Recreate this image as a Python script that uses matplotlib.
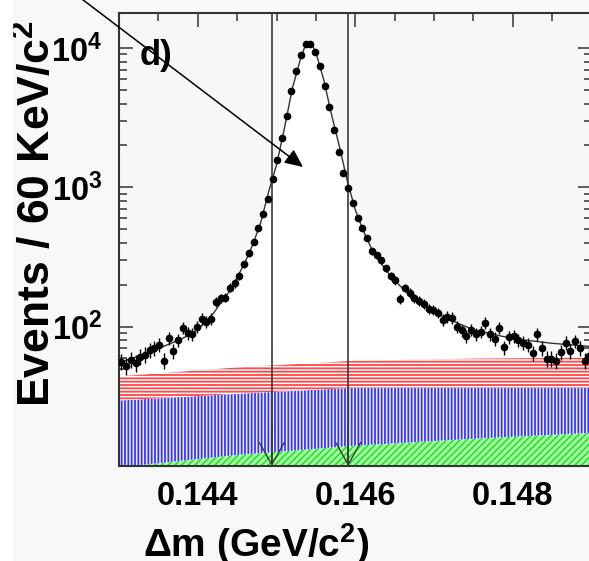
import numpy as np
import matplotlib.pyplot as plt
from matplotlib.ticker import FixedLocator, MultipleLocator, LogLocator, NullFormatter
from matplotlib.patches import Rectangle

plt.rcParams['font.family'] = ['Liberation Sans', 'DejaVu Sans']
plt.rcParams['font.weight'] = 'bold'
plt.rcParams['hatch.linewidth'] = 1.3

# histogram: 100 bins of 60 KeV between 0.143 and 0.149 GeV/c^2
dm_lo, dm_hi, n_bins = 0.143, 0.149, 100
events = [56, 52, 58, 55, 61, 63, 68, 70, 74, 57,
          83, 67, 80, 98, 90, 89, 100, 114, 108, 114,
          150, 160, 162, 191, 205, 230, 280, 336, 404, 510,
          640, 830, 1150, 1580, 2250, 3230, 4900, 6830, 8900, 10700,
          10700, 9340, 7400, 5320, 3750, 2600, 1800, 1270, 990, 772,
          602, 510, 430, 348, 325, 300, 262, 230, 215, 159,
          190, 175, 160, 154, 145, 135, 132, 126, 112, 118,
          116, 100, 94, 86, 95, 89, 92, 107, 88, 82,
          98, 71, 84, 86, 80, 77, 74, 65, 89, 70,
          59, 59, 57, 66, 77, 67, 79, 70, 57, 62]

# total fit curve
fit_dm = [0.1430, 0.1434, 0.1438, 0.1440, 0.1442, 0.1443, 0.1444, 0.1445, 0.1446,
          0.1447, 0.1448, 0.1449, 0.1450, 0.1451, 0.1452, 0.1453, 0.14535, 0.1454,
          0.14545, 0.1455, 0.1456, 0.1457, 0.1458, 0.1459, 0.1460, 0.1461, 0.1462,
          0.1463, 0.1464, 0.1465, 0.1467, 0.1470, 0.1472, 0.1475, 0.1480, 0.1485, 0.1490]
fit_events = [55, 66, 82, 95, 125, 150, 178, 225, 290,
              390, 560, 930, 1450, 2650, 5100, 8200, 9900, 10900,
              10600, 9300, 5900, 3300, 1950, 1100, 690, 490, 370,
              300, 250, 215, 165, 128, 112, 95, 82, 76, 72]

# stacked background components (cumulative tops)
bkg_dm = [0.143, 0.1445, 0.146, 0.1475, 0.149]
green_top = [9.8, 12.0, 14.0, 15.7, 17.3]
blue_top = [29.5, 33.0, 36.5, 36.5, 36.5]
red_top = [44, 51, 57, 59, 60]

cut_lines = [0.14494, 0.14591]

edges = np.linspace(dm_lo, dm_hi, n_bins + 1)
centers = 0.5 * (edges[1:] + edges[:-1])
half_w = 0.5 * (edges[1] - edges[0])
events = np.array(events, dtype=float)

fig = plt.figure(figsize=(5.89, 5.61), dpi=100, facecolor='#f8f8f8')
fig.patches.append(Rectangle((0, 0), 12 / 589, 1, transform=fig.transFigure,
                             color='white', zorder=0))
ax = fig.add_axes([0.202, 0.1693, 0.8024, 0.8084])
ax.set_facecolor('#f7f7f7')
ax.set_yscale('log')
ax.set_xlim(dm_lo, dm_hi)
ax.set_ylim(10, 18000)

ax.fill_between(fit_dm, fit_events, 1, color='white', lw=0, zorder=1)


def band(top, bottom, face, edge, hatch):
    xs = np.concatenate([bkg_dm, bkg_dm[::-1]])
    ys = np.concatenate([top, bottom[::-1]])
    ax.fill(xs, ys, facecolor=face, edgecolor=edge, hatch=hatch, lw=0, zorder=2)


band(green_top, [1] * 5, '#a8ffa8', '#30e030', '/////')
band(blue_top, green_top, '#f0f0ff', '#3535ff', '|||||')
band(red_top, blue_top, 'white', '#ff4545', '-----')

for x in cut_lines:
    ax.axvline(x, color='#3a3a3a', lw=1.2, zorder=3)
    ax.annotate('', xy=(x, 0), xytext=(x, 0.09), xycoords=('data', 'axes fraction'),
                arrowprops=dict(arrowstyle='->,head_length=1.6,head_width=0.9',
                                color='#3a3a3a', lw=1.0, shrinkA=0, shrinkB=0), zorder=3)

ax.plot(fit_dm, fit_events, color='#333333', lw=1.0, zorder=4)
ax.errorbar(centers, events, yerr=np.sqrt(events), xerr=half_w, fmt='o', color='black',
            ms=4.5, elinewidth=1.0, capsize=0, zorder=5)

ax.xaxis.set_major_locator(FixedLocator([0.144, 0.146, 0.148]))
ax.xaxis.set_minor_locator(MultipleLocator(0.0005))
ax.set_xticks([0.144, 0.146, 0.148], labels=['0.144', '0.146', '0.148'])
ax.yaxis.set_major_locator(FixedLocator([1e2, 1e3, 1e4]))
ax.yaxis.set_minor_locator(LogLocator(subs=np.arange(2, 10)))
ax.yaxis.set_minor_formatter(NullFormatter())

ax.tick_params(which='both', direction='in', top=True, right=True, color='#333333',
               width=1.1, labelsize=23.5)
ax.tick_params(which='major', length=10)
ax.tick_params(which='minor', length=6)
ax.tick_params(axis='y', pad=12)
ax.tick_params(axis='x', pad=11)
for s in ax.spines.values():
    s.set_linewidth(1.5)
    s.set_color('#333333')

ax.set_ylabel('Events / 60 KeV/c$^{\\mathdefault{2}}$', fontsize=32, fontweight='bold')
ax.yaxis.set_label_coords(-0.125, 0.556)
ax.set_xlabel('Δm (GeV/c$^{\\mathdefault{2}}$)', fontsize=28, fontweight='bold')
ax.xaxis.label.set_va('baseline')
ax.xaxis.set_label_coords(0.289, -0.2007)

ax.text(0.044, 0.884, 'd)', transform=ax.transAxes, fontsize=25, fontweight='bold',
        va='baseline', zorder=6)

ax.annotate('', xy=(303 / 589, 1 - 167 / 561), xycoords='figure fraction',
            xytext=(70 / 589, 1 + 10 / 561), textcoords='figure fraction',
            arrowprops=dict(arrowstyle='-|>,head_length=0.55,head_width=0.25',
                            mutation_scale=20, color='black', lw=1.1,
                            shrinkA=0, shrinkB=0),
            annotation_clip=False, zorder=7)

fig.savefig('out.png', dpi=100, facecolor=fig.get_facecolor())
